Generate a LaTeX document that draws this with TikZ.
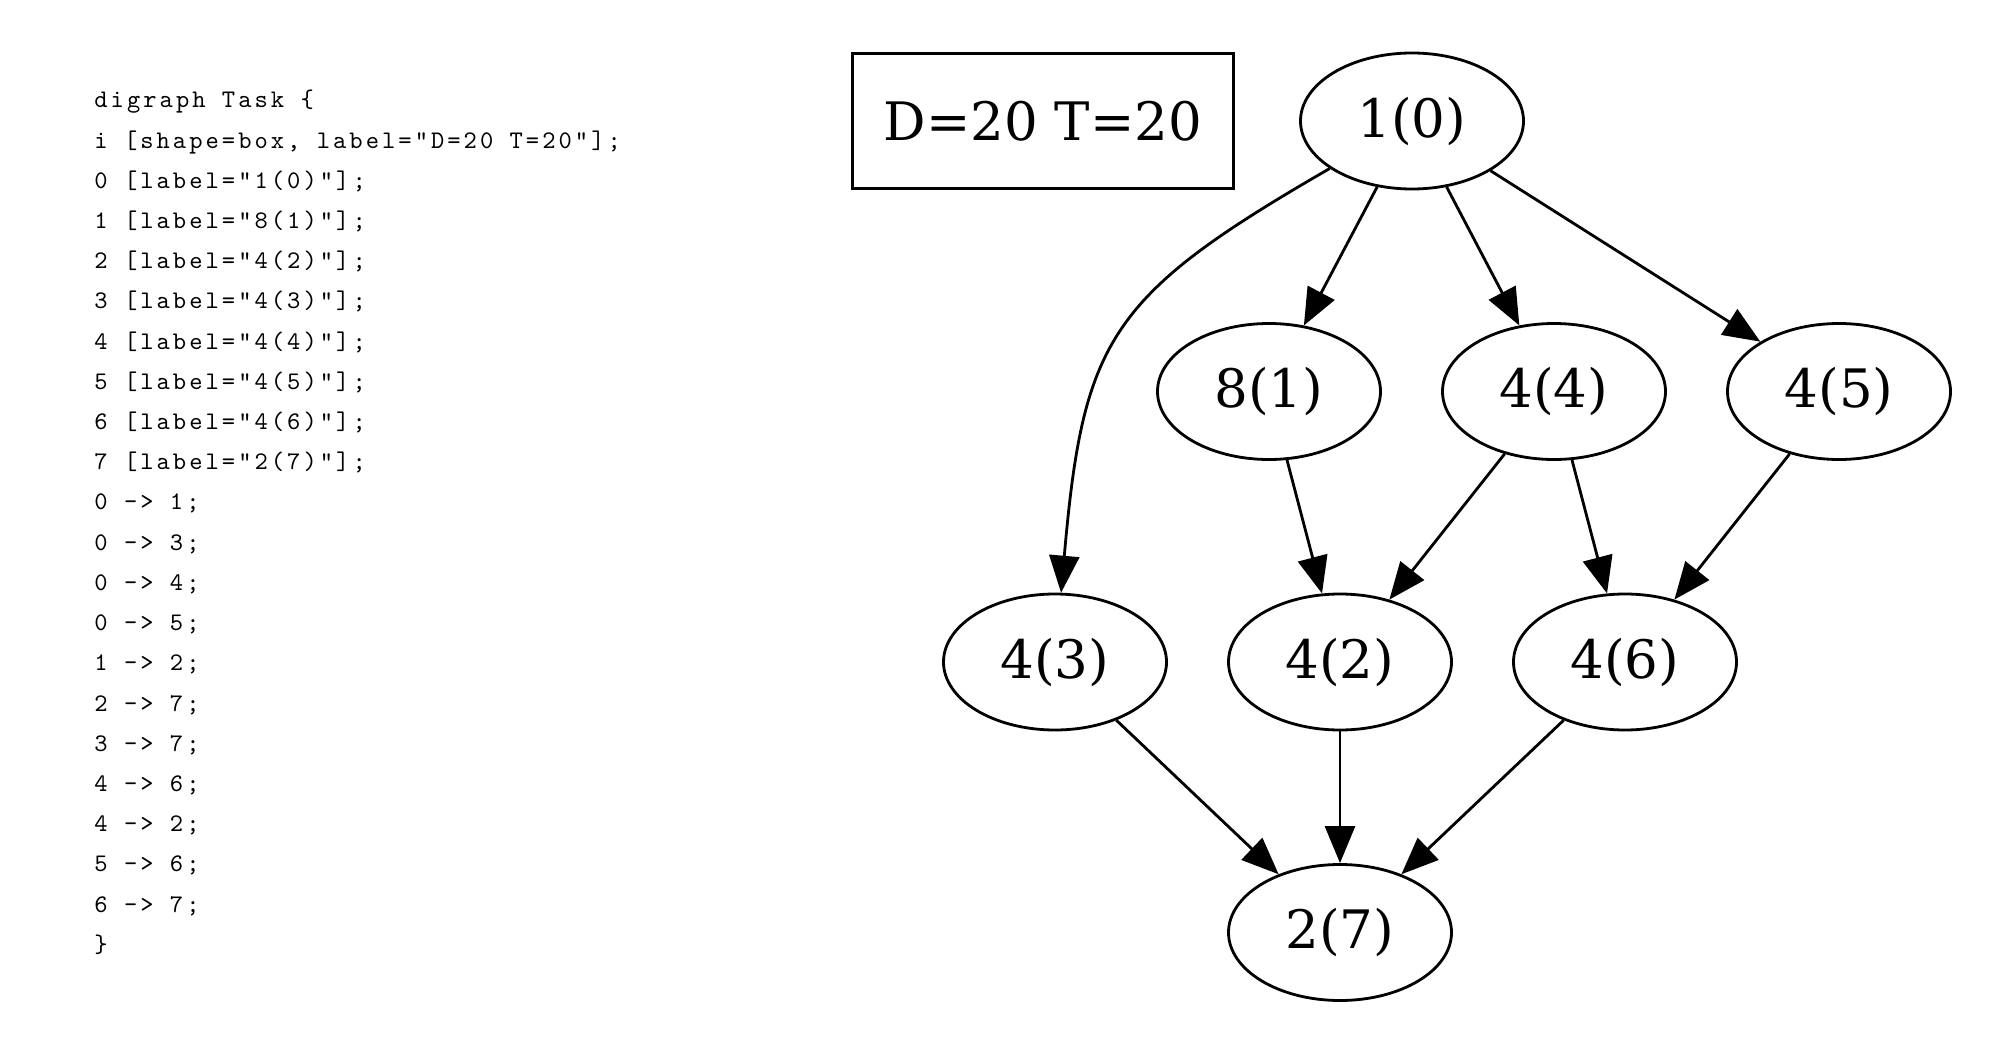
\documentclass[tikz,border=0pt]{standalone}
\usepackage{fontspec}
\usepackage{xcolor}
\usetikzlibrary{arrows.meta,positioning,shapes.geometric}
\newfontfamily\labelfont{DejaVu Serif}
\newfontfamily\listingfont[Ligatures=TeXOff,LetterSpace=12]{lmmono10-regular.otf}

\begin{document}
\begin{tikzpicture}[->, >={Triangle[length=3.7mm,width=3mm]}, line width=0.8pt,
                node distance=2.705cm and 2.85cm, on grid,
                task node/.style={ellipse,draw,minimum width=2.23cm,minimum height=1.36cm,inner sep=0pt,
                                  font=\labelfont\fontsize{15.08}{18}\selectfont},
                info node/.style={rectangle,draw,minimum width=3.81cm,minimum height=1.35cm,inner sep=0pt,
                                  font=\labelfont\fontsize{15.08}{18}\selectfont},
                listing text/.style={align=left,inner sep=0pt,
                                  font=\listingfont\fontsize{7.2}{11.44}\selectfont}]

      \useasboundingbox (0,0) rectangle (20,-10.54);

      % the dot source on the left
      \node[listing text, anchor=north west] (src) at (0.93,-0.7835) {\strut digraph Task \{\\
i [shape=box, label="D=20 T=20"];\\
0 [label="1(0)"];\\
1 [label="8(1)"];\\
2 [label="4(2)"];\\
3 [label="4(3)"];\\
4 [label="4(4)"];\\
5 [label="4(5)"];\\
6 [label="4(6)"];\\
7 [label="2(7)"];\\
0 -> 1;\\
0 -> 3;\\
0 -> 4;\\
0 -> 5;\\
1 -> 2;\\
2 -> 7;\\
3 -> 7;\\
4 -> 6;\\
4 -> 2;\\
5 -> 6;\\
6 -> 7;\\
\}};

      % the graph it gives
      \node[task node] (T0) at (14.12,-1.21) {1(0)};
      \node[info node] (I) [left=3.69cm of T0] {D=20 T=20};
      \node[task node] (T1) [below left=2.705cm and 1.43cm of T0] {8(1)};
      \node[task node] (T4) [right=of T1] {4(4)};
      \node[task node] (T5) [right=of T4] {4(5)};
      \node[task node] (T2) [below right=2.705cm and 0.71cm of T1] {4(2)};
      \node[task node] (T3) [left=of T2] {4(3)};
      \node[task node] (T6) [right=of T2] {4(6)};
      \node[task node] (T7) [below=of T2] {2(7)};

      \draw (T0) -- (T1);
      \draw (T0) to[out=210,in=85,looseness=1.3] (T3);
      \draw (T0) -- (T4);
      \draw (T0) -- (T5);
      \draw (T1) -- (T2);
      \draw (T2) -- (T7);
      \draw (T3) -- (T7);
      \draw (T4) -- (T6);
      \draw (T4) -- (T2);
      \draw (T5) -- (T6);
      \draw (T6) -- (T7);
  \end{tikzpicture}
\end{document}
